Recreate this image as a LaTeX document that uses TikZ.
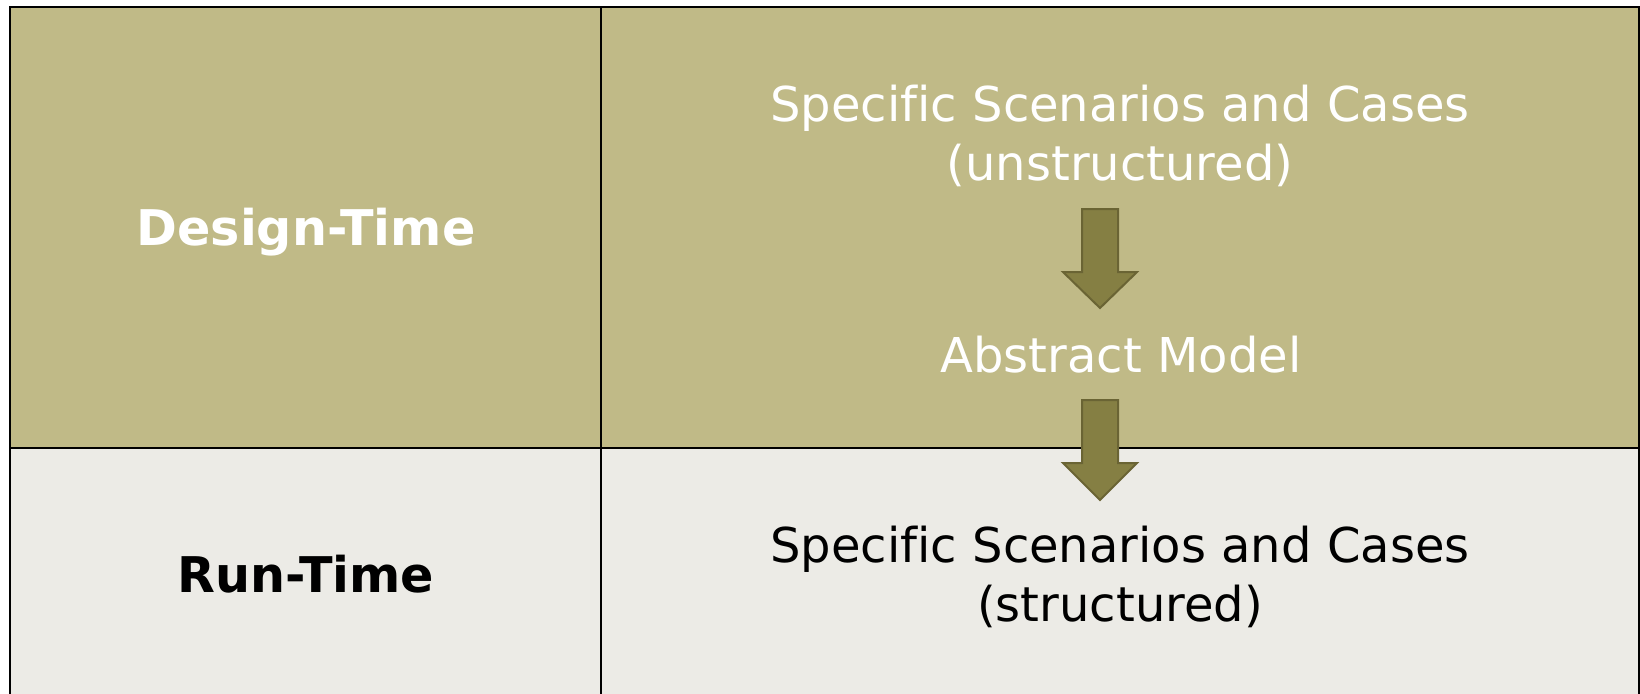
\documentclass[tikz,border=0pt]{standalone}
\usepackage{fontspec}
\setmainfont[Ligatures=NoCommon]{DejaVu Sans}
\definecolor{olive}{RGB}{192,186,135}
\definecolor{pale}{RGB}{236,235,230}
\definecolor{arrowfill}{RGB}{133,127,67}
\definecolor{arrowline}{RGB}{106,100,52}
\tikzset{
  cell/.style={draw=black, line width=2pt},
  lbl/.style={anchor=base, inner sep=0pt, align=center, font=\fontsize{48}{58.5}\selectfont},
  hdr/.style={anchor=base, inner sep=0pt, font=\fontsize{49.2}{58}\selectfont\bfseries},
  bigarrow/.style={fill=arrowfill, draw=arrowline, line width=2pt, line join=miter},
}
\begin{document}
\begin{tikzpicture}[x=1pt,y=-1pt]
\useasboundingbox (0,0) rectangle (1640,693);
% cells
\fill[olive] (10,7) rectangle (1639,448);
\fill[pale] (10,448) rectangle (1639,700);
\draw[cell] (10,700) -- (10,7) -- (1639,7) -- (1639,700);
\draw[cell] (601,7) -- (601,700);
\draw[cell] (10,448) -- (1639,448);
% labels
\node[hdr, text=white] (dt) at (306,245) {Design-Time};
\node[hdr, text=black] (rt) at (306,592.5) {Run-Time};
\node[lbl, text=white] (su) at (1120,180) {Specific Scenarios and Cases\\(unstructured)};
\node[lbl, text=white] (am) at (1121,372) {Abstract Model};
\node[lbl, text=black] (ss) at (1120,621) {Specific Scenarios and Cases\\(structured)};
% arrows
\draw[bigarrow] (1082,209) -- (1118,209) -- (1118,272) -- (1137,272) -- (1100,308) -- (1063,272) -- (1082,272) -- cycle;
\draw[bigarrow] (1082,400) -- (1118,400) -- (1118,463) -- (1137,463) -- (1100,500) -- (1063,463) -- (1082,463) -- cycle;
\end{tikzpicture}
\end{document}
